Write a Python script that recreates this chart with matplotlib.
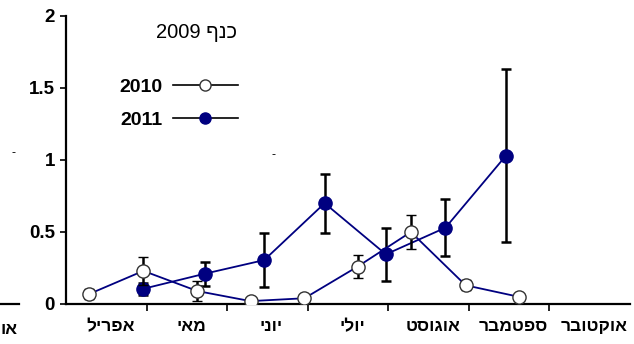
import matplotlib.pyplot as plt
from matplotlib.lines import Line2D

plt.rcParams['font.family'] = ['Liberation Sans', 'DejaVu Sans']

# months (Hebrew, logical order)
months = ['אפריל', 'מאי', 'יוני', 'יולי', 'אוגוסט', 'ספטמבר', 'אוקטובר']

# 2010 series (x in month units from the start of April)
x2010 = [0.29, 0.96, 1.63, 2.29, 2.96, 3.62, 4.28, 4.96, 5.62]
y2010 = [0.07, 0.23, 0.09, 0.02, 0.04, 0.26, 0.50, 0.13, 0.05]
e2010 = [0.035, 0.095, 0.07, 0.0, 0.0, 0.08, 0.12, 0.035, 0.015]

# 2011 series
x2011 = [0.955, 1.72, 2.46, 3.21, 3.97, 4.71, 5.46]
y2011 = [0.105, 0.21, 0.305, 0.70, 0.345, 0.53, 1.03]
e2011 = [0.04, 0.085, 0.185, 0.205, 0.185, 0.20, 0.60]

yticks = [0, 0.5, 1, 1.5, 2]
ytick_labels = ['0', '0.5', '1', '1.5', '2']


def heb(s):
    # matplotlib has no bidi support, so draw Hebrew in visual order
    return s[::-1]


navy = '#000080'

fig = plt.figure(figsize=(6.34, 3.44), dpi=100)
ax = fig.add_axes([66 / 634, 1 - 304 / 344, 564 / 634, 288 / 344])

ax.errorbar(x2011, y2011, yerr=e2011, color=navy, lw=1.3, marker='o', ms=9.5,
            mfc=navy, mec=navy, ecolor='black', elinewidth=1.8, capsize=3.5,
            capthick=1.8, zorder=3)
ax.errorbar(x2010, y2010, yerr=e2010, color=navy, lw=1.3, marker='o', ms=9.5,
            mfc='white', mec='#333333', mew=1.0, ecolor='black',
            elinewidth=1.8, capsize=3.5, capthick=1.8, zorder=4)

ax.set_xlim(0, len(months))
ax.set_ylim(0, 2)

for s in ['top', 'right']:
    ax.spines[s].set_visible(False)
for s in ['left', 'bottom']:
    ax.spines[s].set_linewidth(1.6)

ax.set_yticks(yticks)
ax.set_yticklabels(ytick_labels, fontsize=13.5, fontweight='bold')
ax.tick_params(axis='y', length=4, width=1.2, pad=4)

ax.set_xticks(range(1, len(months)))
ax.set_xticklabels([])
ax.tick_params(axis='x', which='major', length=5, width=1.2, direction='out')
ax.set_xticks([i + 0.55 for i in range(len(months))], minor=True)
ax.set_xticklabels([heb(m) for m in months], minor=True, fontsize=12.5,
                   fontweight='bold')
ax.tick_params(axis='x', which='minor', length=0, pad=11)

# legend with markers to the right of the labels
handles = [
    Line2D([], [], color='black', lw=1.2, marker='o', ms=8, mfc='white',
           mec='#333333'),
    Line2D([], [], color='black', lw=1.2, marker='o', ms=8, mfc=navy,
           mec=navy),
]
ax.legend(handles, ['2010', '2011'], loc='upper left',
          bbox_to_anchor=(0.095, 0.785), frameon=False, markerfirst=False,
          prop={'size': 14, 'weight': 'bold'}, handlelength=3.3,
          handletextpad=0.55, labelspacing=0.8, borderpad=0, borderaxespad=0)

fig.text(196 / 634, 1 - 32 / 344, '2009 ' + heb('כנף'), fontsize=14.5,
         ha='center', va='center')

# remnants of the neighbouring panel on the left
fig.add_artist(Line2D([0, 19 / 634], [1 - 304 / 344] * 2, color='black',
                      lw=1.6, transform=fig.transFigure))
fig.text(1 / 634, 1 - 330 / 344, heb('או'), fontsize=12.5,
         fontweight='bold', ha='left', va='center')
fig.text(13 / 634, 1 - 153 / 344, '-', fontsize=9, ha='center', va='center')
fig.text(273 / 634, 1 - 155 / 344, '-', fontsize=9, ha='center', va='center')

fig.savefig('out.png', dpi=100)
